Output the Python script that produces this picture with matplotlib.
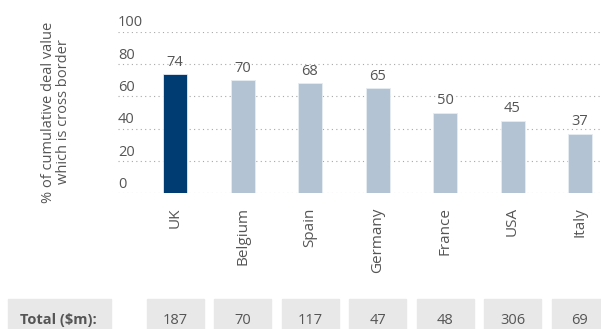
import matplotlib.pyplot as plt
from matplotlib.patches import Rectangle
from matplotlib.transforms import blended_transform_factory

plt.rcParams['font.family'] = ['Open Sans', 'DejaVu Sans']

countries = ['UK', 'Belgium', 'Spain', 'Germany', 'France', 'USA', 'Italy']
cross_border_pct = [74, 70, 68, 65, 50, 45, 37]
totals_m = [187, 70, 117, 47, 48, 306, 69]
yticks = [0, 20, 40, 60, 80, 100]

dark_blue = '#003b72'
light_blue = '#b3c3d4'
grey_text = '#555555'
box_grey = '#e8e8e8'

W, H = 601, 329
fig = plt.figure(figsize=(W / 100, H / 100), dpi=100)

# axes placed in pixel terms: zero line at y=193, 100 line at y=32
ax_left, ax_bottom, ax_top = 118, 193.3, 31.7
ax = fig.add_axes([ax_left / W, (H - ax_bottom) / H, 1 - ax_left / W, (ax_bottom - ax_top) / H])
ax.set_ylim(0, 100)
step = 67.5
ax.set_xlim(-(175 - ax_left) / step, 6 + (W - 580) / step)
ax.axis('off')

for t in yticks:
    ax.axhline(t, color='#a8a8a8', linestyle=(0, (1, 3)), linewidth=0.8, zorder=0)
    ax.annotate(str(t), (0, t), xycoords=('axes fraction', 'data'),
                xytext=(0, 1.0), textcoords='offset points',
                ha='left', va='bottom', fontsize=10.5, color=grey_text)

colors = [dark_blue] + [light_blue] * (len(countries) - 1)
x = range(len(countries))
ax.bar(x, cross_border_pct, width=24 / step, color=colors,
       edgecolor='#e6ecf2', linewidth=0.6, zorder=2)

for i, v in enumerate(cross_border_pct):
    ax.annotate(str(v), (i, v), xytext=(0, 3), textcoords='offset points',
                ha='center', va='bottom', fontsize=10.5, color=grey_text)
    ax.annotate(countries[i], (i, 0), xytext=(0, -10), textcoords='offset points',
                ha='center', va='top', rotation=90, fontsize=11, color=grey_text)

# y axis title
fig.text(56 / W, 1 - 112 / H, '% of cumulative deal value\nwhich is cross border',
         rotation=90, ha='center', va='center', fontsize=10.5, color=grey_text,
         linespacing=1.0, multialignment='center')

# totals row underneath
trans = blended_transform_factory(ax.transData, fig.transFigure)
box_w = 57 / step
box_h = (H - 299) / H
for i, tot in enumerate(totals_m):
    fig.patches.append(Rectangle((i - box_w / 2, 0), box_w, box_h,
                                 transform=trans, color=box_grey, zorder=0))
    fig.text(i, 1 - 320 / H, str(tot), transform=trans, ha='center', va='center',
             fontsize=10.5, color=grey_text)

fig.patches.append(Rectangle((8 / W, 0), 103 / W, box_h, transform=fig.transFigure,
                             color=box_grey, zorder=0))
fig.text(58 / W, 1 - 320 / H, 'Total ($m):', ha='center', va='center',
         fontsize=10.5, fontweight='bold', color=grey_text)

fig.savefig('out.png', dpi=100)
